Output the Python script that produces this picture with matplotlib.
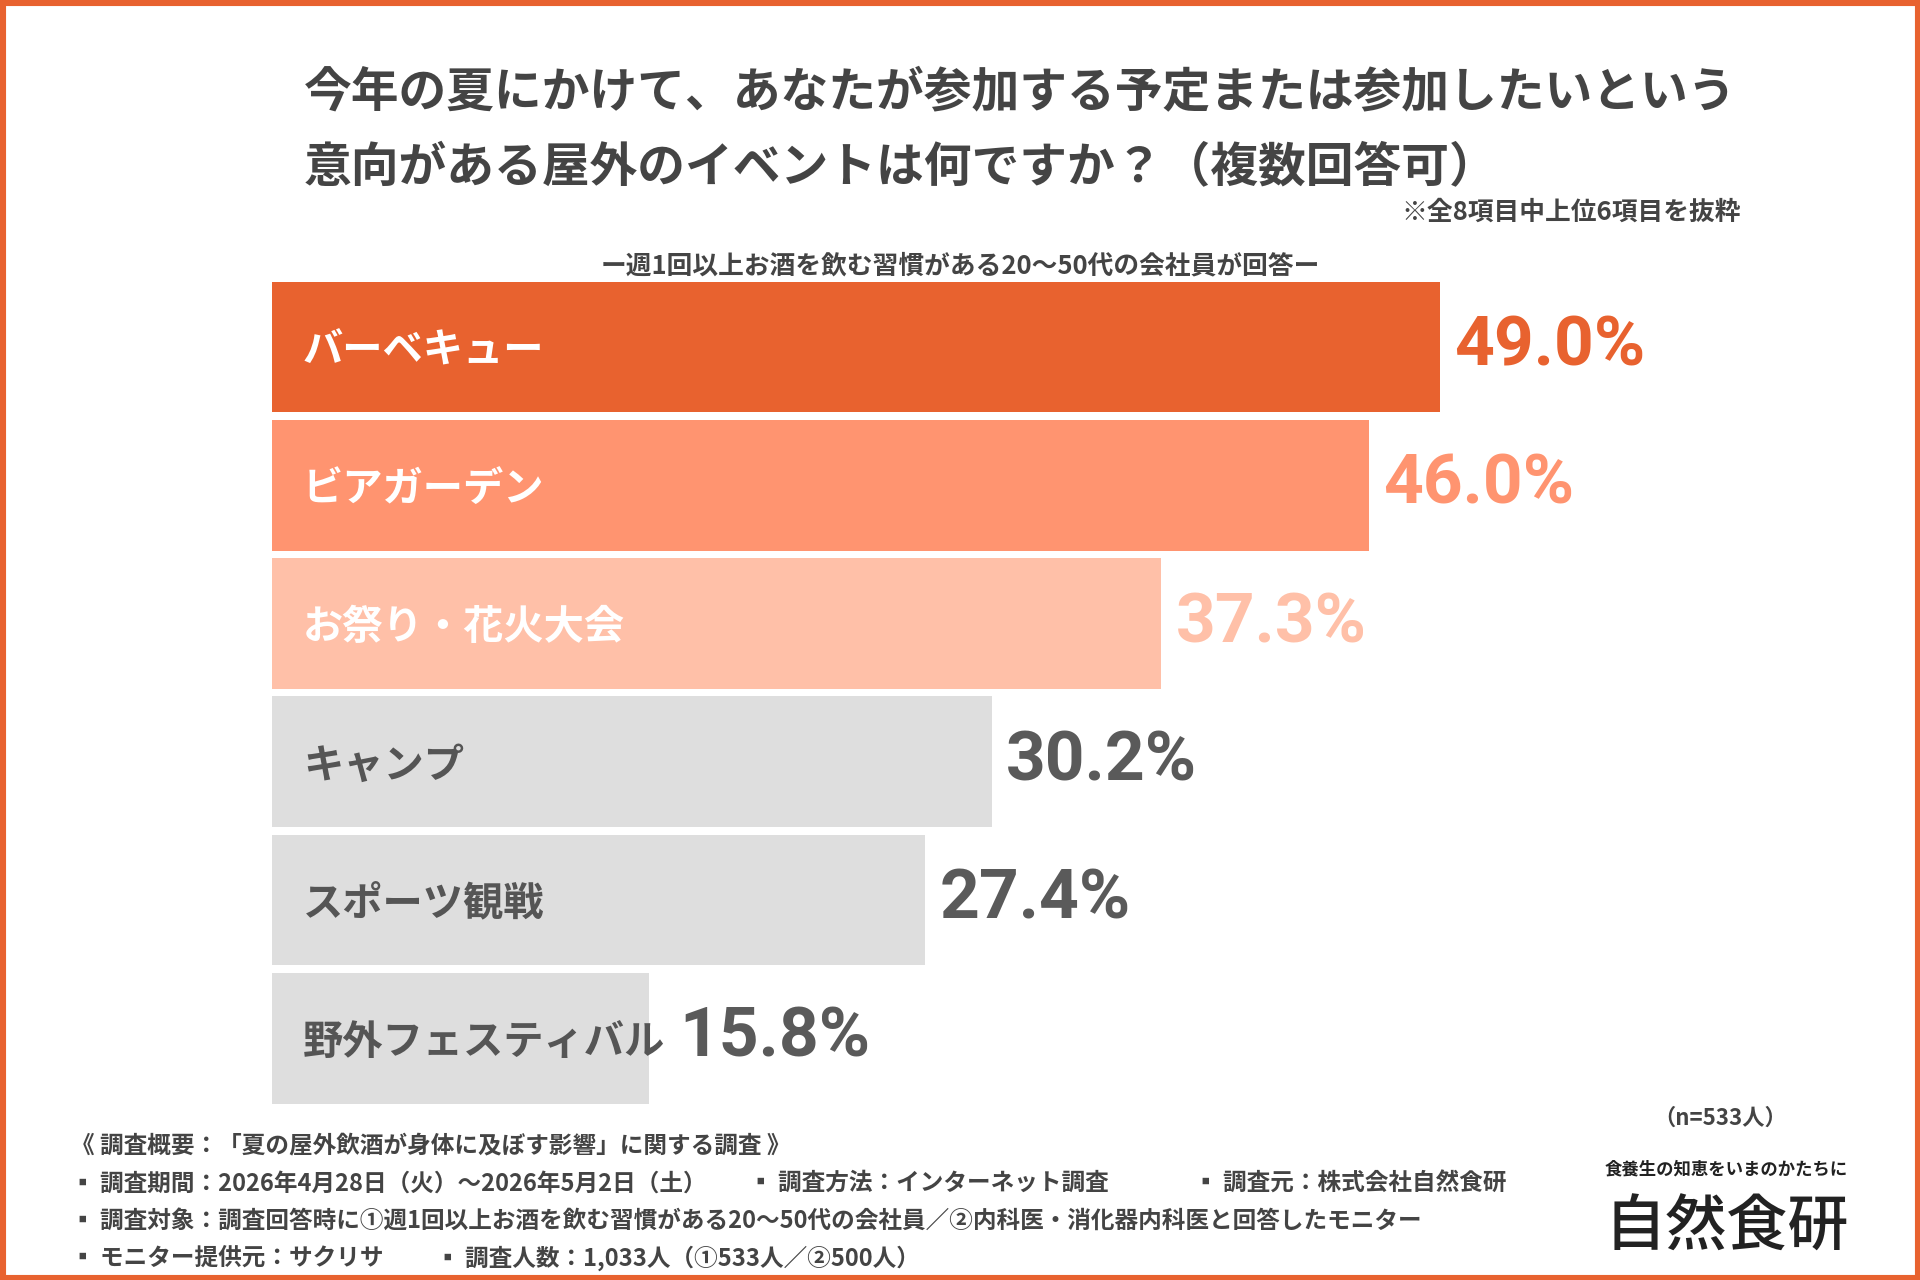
import matplotlib.pyplot as plt
from matplotlib.patches import Rectangle

plt.rcParams['font.family'] = ['Noto Sans CJK JP', 'DejaVu Sans']

labels = ['バーベキュー', 'ビアガーデン', 'お祭り・花火大会', 'キャンプ', 'スポーツ観戦', '野外フェスティバル']
values = [49.0, 46.0, 37.3, 30.2, 27.4, 15.8]
bar_colors = ['#E8622F', '#FF9470', '#FFC0A8', '#DEDEDE', '#DEDEDE', '#DEDEDE']
label_colors = ['white', 'white', 'white', '#555555', '#555555', '#555555']
value_colors = ['#E8622F', '#FF9470', '#FFC0A8', '#5A5A5A', '#5A5A5A', '#5A5A5A']

W, H = 1568, 1045
fig = plt.figure(figsize=(19.2, 12.8), dpi=100)
fig.patches.append(Rectangle((0, 0), 1, 1, transform=fig.transFigure, fill=False,
                             edgecolor='#E8622F', linewidth=8))

def fx(x): return x / W
def fy(y): return 1 - y / H

# bar axes spanning image x 222..1568, y 230..901
ax = fig.add_axes([fx(222), fy(901), 1 - fx(222), (901 - 230) / H])
pitch = 113.2
h = 107 / pitch
y = list(range(len(values)))
ax.barh(y, values, height=h, color=bar_colors)
ax.set_xlim(0, (W - 222) / 19.47)
ax.set_ylim(len(values) - 1 + h / 2, -h / 2)
ax.axis('off')
renderer = fig.canvas.get_renderer()
for i, (lab, v) in enumerate(zip(labels, values)):
    t = ax.text(1.3, i + 0.03, lab, va='center', ha='left', fontsize=29, fontweight='bold',
                color=label_colors[i])
    # if the label runs past the bar end, put the value after the label
    ext = t.get_window_extent(renderer).transformed(ax.transData.inverted())
    start = max(v, ext.x1) + 0.6
    ax.text(start, i, f'{v:.1f}%', va='center', ha='left', fontsize=50, fontweight='bold',
            color=value_colors[i], family=['Roboto', 'DejaVu Sans'])

tc = '#444444'
fig.text(fx(248), fy(75), '今年の夏にかけて、あなたが参加する予定または参加したいという',
         fontsize=34.4, fontweight='bold', color=tc, va='center')
fig.text(fx(248), fy(137), '意向がある屋外のイベントは何ですか？（複数回答可）',
         fontsize=34.4, fontweight='bold', color=tc, va='center')
fig.text(fx(1422), fy(173), '※全8項目中上位6項目を抜粋', fontsize=18.5, fontweight='bold',
         color=tc, va='center', ha='right')
fig.text(fx(784), fy(217), 'ー週1回以上お酒を飲む習慣がある20〜50代の会社員が回答ー', fontsize=18.5,
         fontweight='bold', color=tc, va='center', ha='center')

notes = [
    (58, 935, '《 調査概要：「夏の屋外飲酒が身体に及ぼす影響」に関する調査 》'),
    (58, 966, '▪ 調査期間：2026年4月28日（火）〜2026年5月2日（土）'),
    (612, 966, '▪ 調査方法：インターネット調査'),
    (975, 966, '▪ 調査元：株式会社自然食研'),
    (58, 997, '▪ 調査対象：調査回答時に①週1回以上お酒を飲む習慣がある20〜50代の会社員／②内科医・消化器内科医と回答したモニター'),
    (58, 1027, '▪ モニター提供元：サクリサ'),
    (356, 1027, '▪ 調査人数：1,033人（①533人／②500人）'),
]
for x, yy, t in notes:
    fig.text(fx(x), fy(yy), t, fontsize=17, fontweight='bold', color=tc, va='center')

fig.text(fx(1405), fy(913), '（n=533人）', fontsize=16, fontweight='bold', color=tc, va='center', ha='center')
fig.text(fx(1410), fy(955), '食養生の知恵をいまのかたちに', fontsize=12.5, fontweight='bold', color='#222222',
         va='center', ha='center')
fig.text(fx(1410), fy(1003), '自然食研', fontsize=44, fontweight='medium', color='#222222',
         va='center', ha='center')

fig.savefig('out.png', dpi=100)
